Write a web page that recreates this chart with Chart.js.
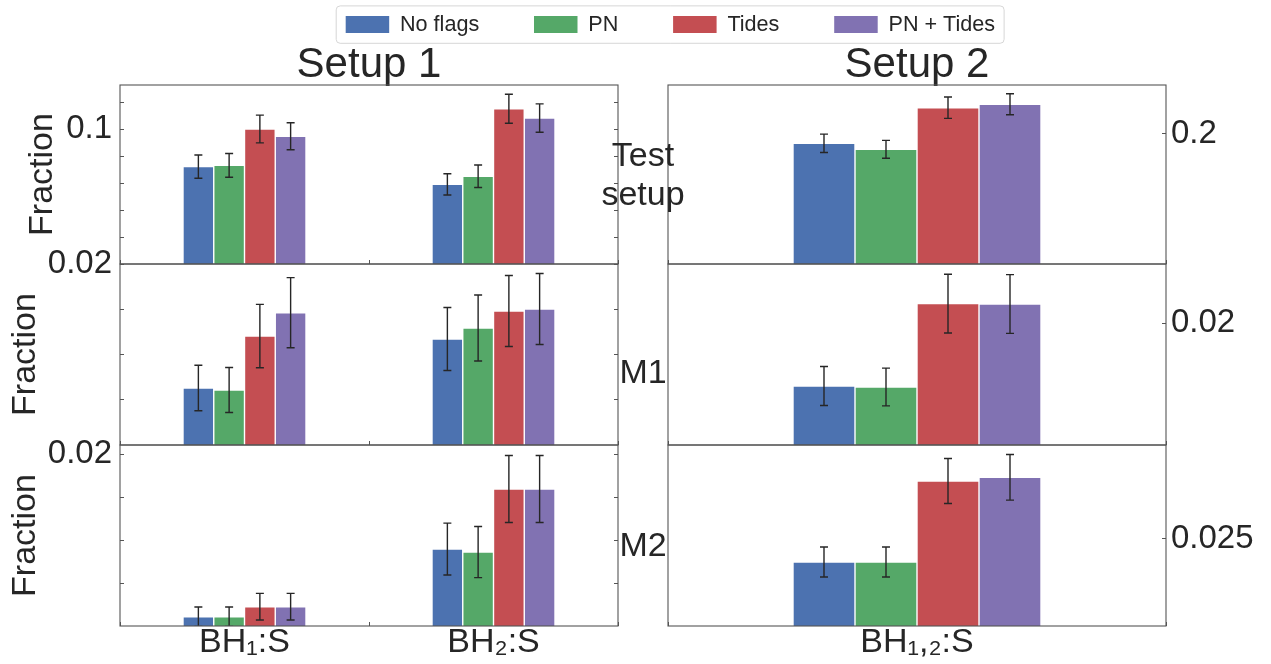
<!DOCTYPE html>
<html>
<head>
<meta charset="utf-8">
<title>Fraction by setup</title>
<script src="https://cdn.jsdelivr.net/npm/chart.js@4.4.1/dist/chart.umd.min.js"></script>
<style>
  html, body { margin: 0; padding: 0; background: #fff; }
  body { position: relative; width: 1271px; height: 664px; overflow: hidden; }
  .box { position: absolute; }
</style>
</head>
<body>
<div class="box" style="left:0;top:-41px;width:1271px;height:180px"><canvas id="legendChart"></canvas></div>
<div class="box" style="left:0;top:0;width:633px;height:304px"><canvas id="s1test"></canvas></div>
<div class="box" style="left:0;top:224px;width:633px;height:261px"><canvas id="s1m1"></canvas></div>
<div class="box" style="left:0;top:405px;width:633px;height:259px"><canvas id="s1m2"></canvas></div>
<div class="box" style="left:580px;top:0;width:691px;height:304px"><canvas id="s2test"></canvas></div>
<div class="box" style="left:580px;top:224px;width:691px;height:261px"><canvas id="s2m1"></canvas></div>
<div class="box" style="left:580px;top:405px;width:691px;height:259px"><canvas id="s2m2"></canvas></div>
<script>
const seriesNames = ['No flags', 'PN', 'Tides', 'PN + Tides'];
const seriesColors = ['#4C72B0', '#55A868', '#C44E52', '#8172B2'];
const categoriesLeft = ['BH₁:S', 'BH₂:S'];
const categoriesRight = ['BH₁,₂:S'];

// values per series: [No flags, PN, Tides, PN + Tides], each over the categories
const setup1Test = [[0.0721, 0.0590], [0.0731, 0.0650], [0.1000, 0.1150], [0.0946, 0.1081]];
const setup1TestErr = [[0.0086, 0.0079], [0.0088, 0.0083], [0.0103, 0.0107], [0.0100, 0.0105]];
const setup1M1 = [[0.00630, 0.01171], [0.00608, 0.01293], [0.01204, 0.01481], [0.01462, 0.01503]];
const setup1M1Err = [[0.00252, 0.00348], [0.00249, 0.00365], [0.00350, 0.00392], [0.00387, 0.00392]];
const setup1M2 = [[0.00108, 0.00895], [0.00108, 0.00860], [0.00224, 0.01593], [0.00224, 0.01593]];
const setup1M2Err = [[0.00113, 0.00302], [0.00113, 0.00297], [0.00155, 0.00390], [0.00155, 0.00390]];

const setup2Test = [[0.1854], [0.1762], [0.2401], [0.2454]];
const setup2TestErr = [[0.0141], [0.0138], [0.0164], [0.0161]];
const setup2M1 = [[0.00968], [0.00952], [0.02319], [0.02314]];
const setup2M1Err = [[0.0032], [0.0031], [0.00482], [0.00482]];
const setup2M2 = [[0.01839], [0.01839], [0.04166], [0.04272]];
const setup2M2Err = [[0.00431], [0.00431], [0.00646], [0.00656]];

// axis ranges and ticks
const setup1TestRange = [0, 0.1326];
const setup1TestTicks = [0.02, 0.04, 0.06, 0.08, 0.1, 0.12];
const setup1TestLabels = [0.1];
const setup1M1Range = [0, 0.02];
const setup1M1Ticks = [0.005, 0.01, 0.015, 0.02];
const setup1M1Labels = [0.02];
const setup1M2Range = [0, 0.02105];
const setup1M2Ticks = [0.005, 0.01, 0.015, 0.02];
const setup1M2Labels = [0.02];
const setup2TestRange = [0, 0.275];
const setup2TestTicks = [0.2];
const setup2M1Range = [0, 0.0297];
const setup2M1Ticks = [0.02];
const setup2M2Range = [0, 0.052];
const setup2M2Ticks = [0.025];

const ink = '#262626';
const spine = '#555555';
const PAD = 40;
Chart.defaults.font.family = "'Liberation Sans', Arial, sans-serif";
Chart.defaults.color = ink;

const errorBars = {
    id: 'errorBars',
    afterDatasetsDraw(chart) {
        const { ctx, chartArea } = chart;
        const yScale = chart.scales.y;
        ctx.save();
        ctx.beginPath();
        ctx.rect(chartArea.left, chartArea.top - 1, chartArea.width, chartArea.height + 1);
        ctx.clip();
        ctx.strokeStyle = ink;
        ctx.lineWidth = 1.4;
        chart.data.datasets.forEach((ds, i) => {
            chart.getDatasetMeta(i).data.forEach((bar, j) => {
                const v = ds.data[j], e = ds.errors[j];
                const y1 = yScale.getPixelForValue(v + e);
                const y2 = yScale.getPixelForValue(v - e);
                ctx.beginPath();
                ctx.moveTo(bar.x, y1); ctx.lineTo(bar.x, y2);
                ctx.moveTo(bar.x - 4, y1); ctx.lineTo(bar.x + 4, y1);
                ctx.moveTo(bar.x - 4, y2); ctx.lineTo(bar.x + 4, y2);
                ctx.stroke();
            });
        });
        ctx.restore();
    }
};

const frame = {
    id: 'frame',
    afterDraw(chart) {
        const { ctx, chartArea } = chart;
        ctx.save();
        ctx.strokeStyle = spine;
        ctx.lineWidth = 1.1;
        ctx.strokeRect(chartArea.left, chartArea.top, chartArea.width, chartArea.height);
        ctx.restore();
    }
};

const rowLabel = {
    id: 'rowLabel',
    afterDraw(chart, args, opts) {
        if (!opts.lines) return;
        const { ctx, chartArea } = chart;
        ctx.save();
        ctx.font = '34px ' + Chart.defaults.font.family;
        ctx.fillStyle = ink;
        ctx.textAlign = 'center';
        ctx.textBaseline = 'middle';
        const n = opts.lines.length;
        const cy = (chartArea.top + chartArea.bottom) / 2 + opts.dy;
        opts.lines.forEach((t, k) => {
            ctx.fillText(t, chartArea.left + opts.dx, cy + (k - (n - 1) / 2) * 39);
        });
        ctx.restore();
    }
};

function makePanel(id, p) {
    const left = p.col === 0;
    const bottom = p.row === 2;
    const setTicks = s => { s.ticks = p.ticks.map(v => ({ value: v })); };
    const scales = {
        x: {
            type: 'category',
            offset: true,
            grid: { display: true, drawOnChartArea: false, tickLength: -4, color: spine, offset: true },
            border: { display: false },
            ticks: { display: bottom, font: { size: 34 }, color: ink, padding: 0, maxRotation: 0, autoSkip: false },
            afterFit: s => { s.height = bottom ? 38 : 0; }
        },
        y: {
            position: left ? 'left' : 'right',
            min: p.range[0],
            max: p.range[1],
            afterBuildTicks: setTicks,
            grid: { drawOnChartArea: false, tickLength: -4, color: spine },
            border: { display: false },
            ticks: {
                autoSkip: false,
                font: { size: 33 },
                color: ink,
                padding: left ? 12 : 9,
                callback: v => (p.labels.includes(v) ? String(v) : '')
            },
            afterFit: s => { s.width = left ? 120 : 105; }
        }
    };
    if (left) {
        scales.y.title = {
            display: true, text: 'Fraction', color: ink,
            font: { size: 34 }, padding: { top: p.fracPad, bottom: 0 }
        };
        scales.y2 = {
            position: 'right',
            min: p.range[0],
            max: p.range[1],
            afterBuildTicks: setTicks,
            grid: { drawOnChartArea: false, tickLength: -4, color: spine },
            border: { display: false },
            ticks: { display: false },
            afterFit: s => { s.width = 15; }
        };
    }
    new Chart(document.getElementById(id), {
        type: 'bar',
        data: {
            labels: left ? categoriesLeft : categoriesRight,
            datasets: seriesNames.map((name, i) => ({
                label: name,
                data: p.values[i],
                errors: p.errors[i],
                backgroundColor: seriesColors[i],
                borderColor: '#ffffff',
                borderWidth: 0.7,
                barPercentage: 1,
                categoryPercentage: left ? 0.494 : 0.498
            }))
        },
        options: {
            responsive: true,
            maintainAspectRatio: false,
            animation: false,
            layout: {
                padding: {
                    left: left ? 0 : 88,
                    right: 0,
                    top: p.row === 0 ? 0 : PAD,
                    bottom: bottom ? 0 : PAD
                }
            },
            scales: scales,
            plugins: {
                legend: { display: false },
                tooltip: { enabled: false },
                title: {
                    display: p.row === 0,
                    text: p.title,
                    fullSize: false,
                    color: ink,
                    font: { size: 42, weight: 'normal', lineHeight: 1.1 },
                    padding: { top: 42, bottom: -3.2 }
                },
                rowLabel: p.rowLabel || {}
            }
        },
        plugins: [errorBars, frame, rowLabel]
    });
}

makePanel('s1test', { col: 0, row: 0, title: 'Setup 1', values: setup1Test, errors: setup1TestErr,
    range: setup1TestRange, ticks: setup1TestTicks, labels: setup1TestLabels, fracPad: 22 });
makePanel('s1m1', { col: 0, row: 1, values: setup1M1, errors: setup1M1Err,
    range: setup1M1Range, ticks: setup1M1Ticks, labels: setup1M1Labels, fracPad: 5 });
makePanel('s1m2', { col: 0, row: 2, values: setup1M2, errors: setup1M2Err,
    range: setup1M2Range, ticks: setup1M2Ticks, labels: setup1M2Labels, fracPad: 5 });
makePanel('s2test', { col: 1, row: 0, title: 'Setup 2', values: setup2Test, errors: setup2TestErr,
    range: setup2TestRange, ticks: setup2TestTicks, labels: setup2TestTicks,
    rowLabel: { lines: ['Test', 'setup'], dx: -25, dy: 1.5 } });
makePanel('s2m1', { col: 1, row: 1, values: setup2M1, errors: setup2M1Err,
    range: setup2M1Range, ticks: setup2M1Ticks, labels: setup2M1Ticks,
    rowLabel: { lines: ['M1'], dx: -25, dy: 19.5 } });
makePanel('s2m2', { col: 1, row: 2, values: setup2M2, errors: setup2M2Err,
    range: setup2M2Range, ticks: setup2M2Ticks, labels: setup2M2Ticks,
    rowLabel: { lines: ['M2'], dx: -25, dy: 11.5 } });

// legend sits in its own chart across the top, with a thin rounded frame
const legendFrame = {
    id: 'legendFrame',
    afterDraw(chart) {
        const boxes = chart.legend.legendHitBoxes;
        if (!boxes || !boxes.length) return;
        const first = boxes[0], last = boxes[boxes.length - 1];
        const cy = first.top + first.height / 2;
        const x0 = first.left - 9.5, x1 = last.left + last.width + 9;
        const ctx = chart.ctx;
        ctx.save();
        ctx.strokeStyle = '#d6d6d6';
        ctx.lineWidth = 1;
        ctx.beginPath();
        ctx.roundRect(x0, cy - 18.7, x1 - x0, 37.4, 4);
        ctx.stroke();
        ctx.restore();
    }
};

new Chart(document.getElementById('legendChart'), {
    type: 'bar',
    data: {
        labels: [],
        datasets: seriesNames.map((name, i) => ({
            label: name, data: [], backgroundColor: seriesColors[i], borderWidth: 0
        }))
    },
    options: {
        responsive: true,
        maintainAspectRatio: false,
        animation: false,
        layout: { padding: { left: 69.8 } },
        scales: { x: { display: false }, y: { display: false } },
        plugins: {
            tooltip: { enabled: false },
            legend: {
                position: 'top',
                labels: { boxWidth: 43.5, boxHeight: 17, padding: 54.8, font: { size: 21.6 }, color: ink }
            }
        }
    },
    plugins: [legendFrame]
});
</script>
</body>
</html>
